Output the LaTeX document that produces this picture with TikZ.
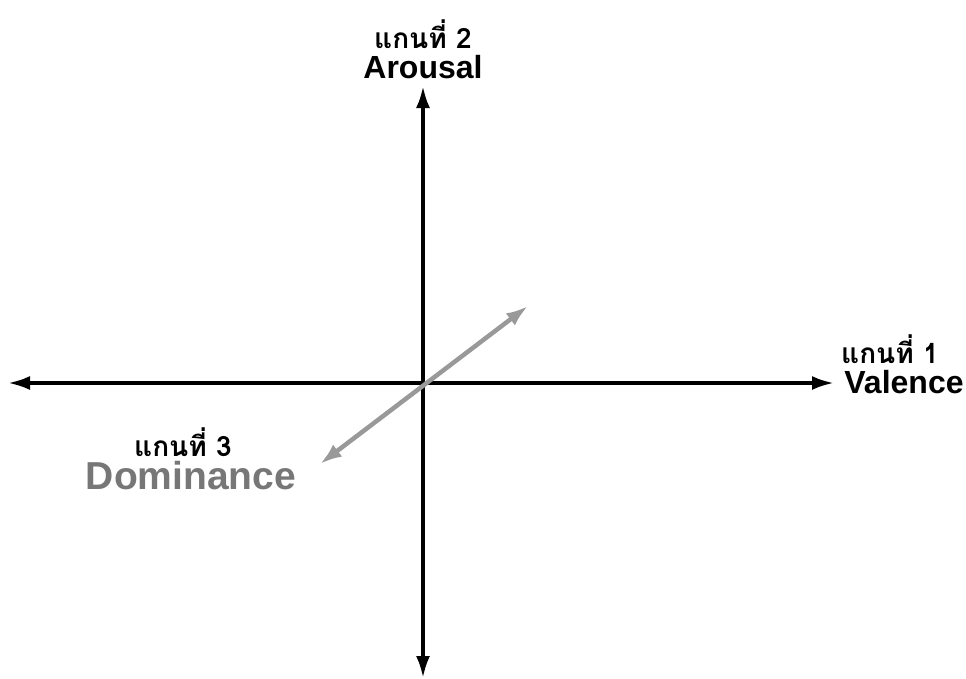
\documentclass[tikz,border=0pt]{standalone}
\usepackage{fontspec}
\setmainfont{Liberation Sans}
\newfontfamily\thaifont[Script=Thai]{Loma}
\usetikzlibrary{arrows.meta}
\definecolor{axisgray}{HTML}{999999}
\definecolor{labelgray}{HTML}{777777}
\tikzset{
  axis/.style={line width=3.6pt, draw=black, {Latex[length=22pt,width=14pt]}-{Latex[length=22pt,width=14pt]}},
  daxis/.style={line width=4.5pt, draw=axisgray, {Latex[length=22pt,width=15pt]}-{Latex[length=22pt,width=15pt]}},
  thlabel/.style={font=\thaifont\bfseries\fontsize{28}{30}\selectfont, inner sep=0pt, anchor=base, text depth=0pt},
  enlabel/.style={font=\bfseries\fontsize{32}{34}\selectfont, inner sep=0pt, anchor=base, text depth=0pt},
}
\begin{document}
\begin{tikzpicture}[x=1pt,y=-1pt]
\useasboundingbox (0,0) rectangle (966,678);
\coordinate (top) at (423,86);
\coordinate (bottom) at (423,678);
\coordinate (left) at (8,383);
\coordinate (right) at (834,383);
\coordinate (dlow) at (320,464);
\coordinate (dhigh) at (528,306);
\draw[axis] (bottom) -- (top);
\draw[axis] (left) -- (right);
\draw[daxis] (dlow) -- (dhigh);
\node[thlabel] (t2) at (423,48) {แกนที่ 2};
\node[enlabel] (arousal) at (423,78) {Arousal};
\node[thlabel] (t1) at (890,363) {แกนที่ 1};
\node[enlabel] (valence) at (904,393) {Valence};
\node[thlabel] (t3) at (183,456) {แกนที่ 3};
\node[enlabel, text=labelgray, font=\bfseries\fontsize{39}{42}\selectfont] (dominance) at (191,489) {Dominance};
\end{tikzpicture}
\end{document}
